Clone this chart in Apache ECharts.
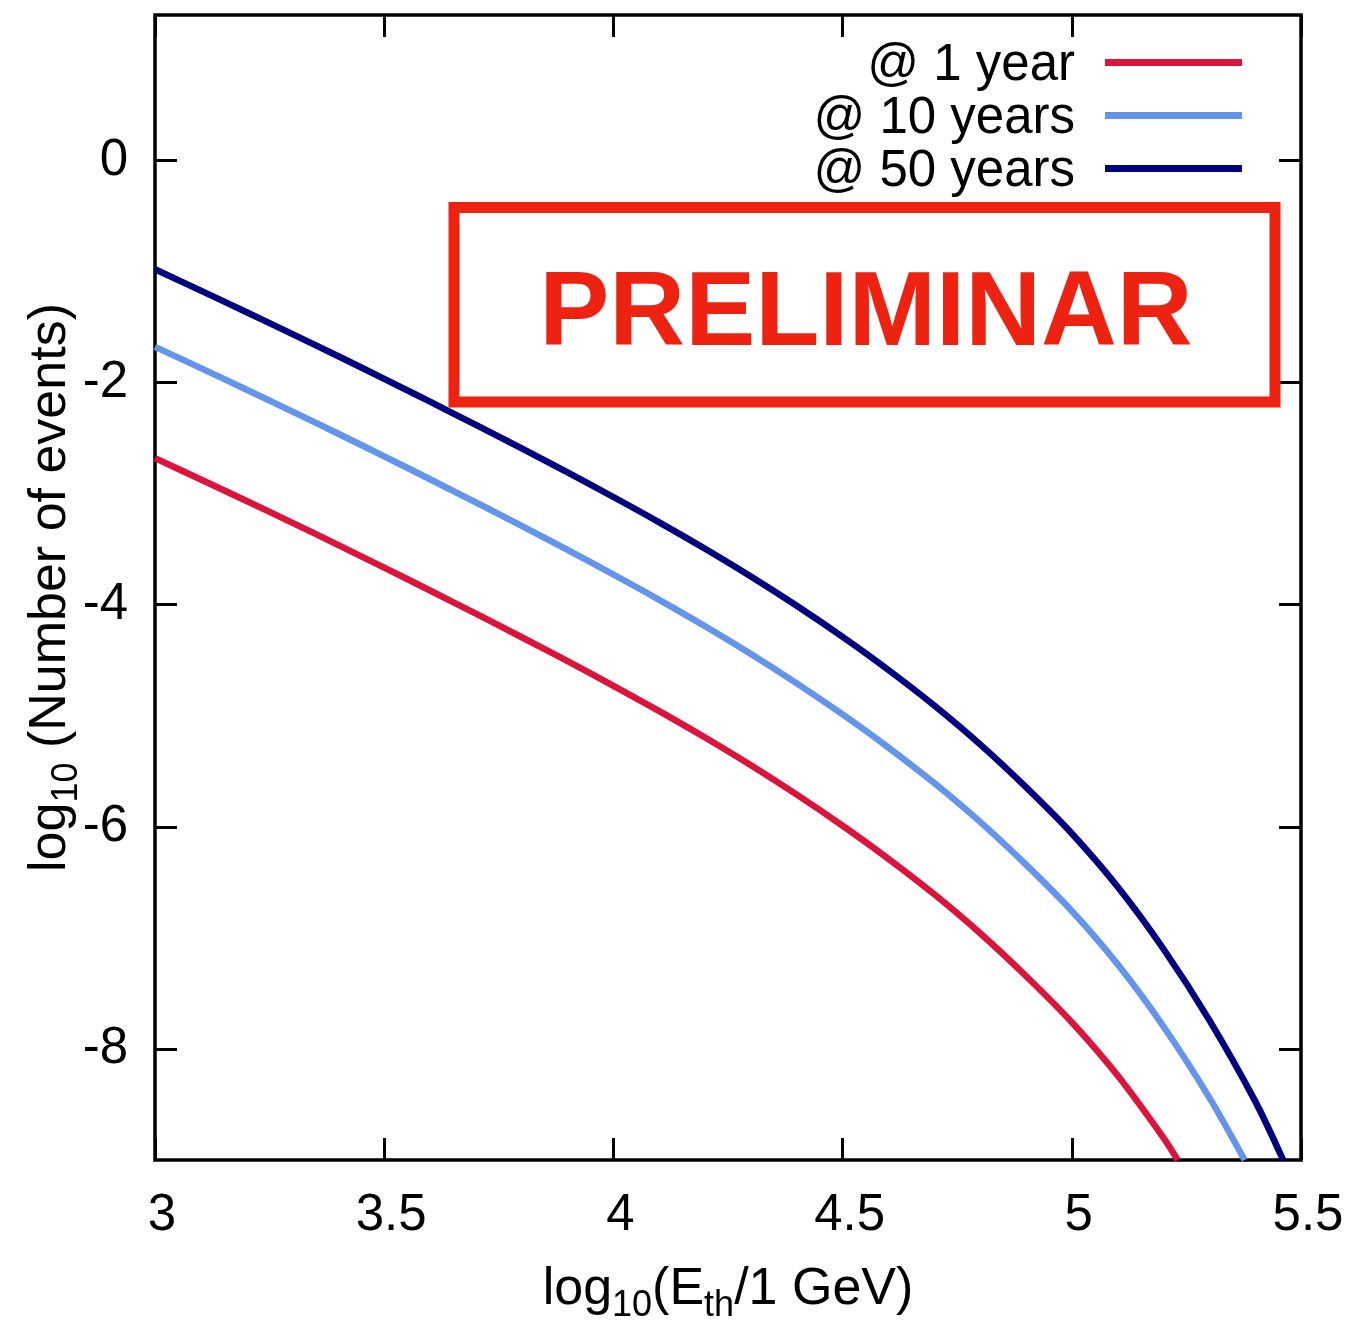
<!DOCTYPE html>
<html>
<head>
<meta charset="utf-8">
<script src="https://cdn.jsdelivr.net/npm/echarts@6/dist/echarts.min.js"></script>
<style>
  html, body { margin: 0; padding: 0; background: #ffffff; }
  #chart { width: 1350px; height: 1324px; }
</style>
</head>
<body>
<div id="chart"></div>
<script>
// log10(E_th / 1 GeV) sample points and log10(number of events) for each exposure
const eth1yr  = [3.0, 3.1, 3.2, 3.3, 3.4, 3.5, 3.6, 3.7, 3.8, 3.9, 4.0, 4.1, 4.2, 4.3, 4.4, 4.5, 4.6, 4.7, 4.8, 4.9, 5.0, 5.1, 5.2, 5.231];
const ev1yr   = [-2.68, -2.872, -3.066, -3.263, -3.463, -3.666, -3.872, -4.081, -4.293, -4.509, -4.73, -4.958, -5.196, -5.446, -5.71, -5.99, -6.288, -6.608, -6.958, -7.343, -7.76, -8.24, -8.80, -9.0];

const eth10yr = [3.0, 3.1, 3.2, 3.3, 3.4, 3.5, 3.6, 3.7, 3.8, 3.9, 4.0, 4.1, 4.2, 4.3, 4.4, 4.5, 4.6, 4.7, 4.8, 4.9, 5.0, 5.1, 5.2, 5.3, 5.377];
const ev10yr  = [-1.678, -1.87, -2.064, -2.261, -2.461, -2.664, -2.87, -3.079, -3.291, -3.507, -3.728, -3.956, -4.194, -4.444, -4.708, -4.988, -5.286, -5.606, -5.956, -6.341, -6.758, -7.238, -7.798, -8.438, -9.0];

const eth50yr = [3.0, 3.1, 3.2, 3.3, 3.4, 3.5, 3.6, 3.7, 3.8, 3.9, 4.0, 4.1, 4.2, 4.3, 4.4, 4.5, 4.6, 4.7, 4.8, 4.9, 5.0, 5.1, 5.2, 5.3, 5.4, 5.461];
const ev50yr  = [-0.98, -1.172, -1.366, -1.563, -1.763, -1.966, -2.172, -2.381, -2.593, -2.809, -3.03, -3.258, -3.496, -3.746, -4.01, -4.29, -4.588, -4.908, -5.258, -5.643, -6.06, -6.54, -7.10, -7.74, -8.47, -9.0];

const seriesNames = ['@ 1 year', '@ 10 years', '@ 50 years'];
const seriesColors = ['#dc143c', '#6495ed', '#000080'];

const xTicks = [3, 3.5, 4, 4.5, 5, 5.5];
const yTicks = [-8, -6, -4, -2, 0];

const FONT = '"Liberation Sans", Arial, Helvetica, sans-serif';

const pairs = (xs, ys) => xs.map((x, i) => [x, ys[i]]);

const tickStyle = { color: '#000', width: 3 };

const nameRich = {
  t: { fontSize: 52, fontFamily: FONT, color: '#000', lineHeight: 52, verticalAlign: 'top' },
  s: { fontSize: 36, fontFamily: FONT, color: '#000', lineHeight: 36, verticalAlign: 'top', padding: [24, 0, 0, 0] }
};

const chart = echarts.init(document.getElementById('chart'), null, { renderer: 'canvas' });

const lineSeries = (name, color, xs, ys, z) => ({
  name: name,
  type: 'line',
  data: pairs(xs, ys),
  showSymbol: false,
  smooth: 0.3,
  clip: true,
  z: z,
  lineStyle: { width: 6.5, color: color, join: 'round' },
  itemStyle: { color: color }
});

chart.setOption({
  animation: false,
  backgroundColor: '#ffffff',
  grid: {
    left: 155, top: 15, width: 1146, height: 1145,
    show: true, borderColor: '#000', borderWidth: 3.5,
    backgroundColor: 'transparent',
    outerBoundsMode: 'none'
  },
  legend: {
    orient: 'vertical',
    right: 108,
    top: 34,
    align: 'right',
    padding: 0,
    itemGap: -4,
    itemWidth: 137,
    itemHeight: 7,
    icon: 'rect',
    selectedMode: false,
    formatter: '{t|{name}}',
    textStyle: {
      rich: {
        t: { fontSize: 51, fontFamily: FONT, color: '#000', lineHeight: 46, padding: [6, 25, 0, 0] }
      }
    },
    data: seriesNames
  },
  xAxis: [
    {
      type: 'value', min: 3, max: 5.5, interval: 0.5, position: 'bottom',
      axisLine: { show: false, onZero: false },
      splitLine: { show: false },
      axisTick: { show: true, inside: true, length: 22, lineStyle: tickStyle },
      axisLabel: { margin: 30, color: '#000', fontSize: 51, fontFamily: FONT, padding: [0, 0, 0, 14] },
      name: '{t|log}{s|10}{t|(E}{s|th}{t|/1 GeV)}',
      nameLocation: 'middle',
      nameGap: 104,
      nameMoveOverlap: false,
      nameTextStyle: { rich: nameRich }
    },
    {
      type: 'value', min: 3, max: 5.5, interval: 0.5, position: 'top',
      axisLine: { show: false, onZero: false },
      splitLine: { show: false },
      axisTick: { show: true, inside: true, length: 22, lineStyle: tickStyle, customValues: xTicks },
      axisLabel: { show: false }
    }
  ],
  yAxis: [
    {
      type: 'value', min: -9, max: 1.31, position: 'left',
      axisLine: { show: false, onZero: false },
      splitLine: { show: false },
      axisTick: { show: true, inside: true, length: 22, lineStyle: tickStyle, customValues: yTicks },
      axisLabel: { margin: 27, color: '#000', fontSize: 51, fontFamily: FONT, customValues: yTicks },
      name: '{t|log}{s|10}{t| (Number of events)}',
      nameLocation: 'middle',
      nameRotate: 90,
      nameGap: 78,
      nameMoveOverlap: false,
      nameTextStyle: { rich: nameRich }
    },
    {
      type: 'value', min: -9, max: 1.31, position: 'right',
      axisLine: { show: false, onZero: false },
      splitLine: { show: false },
      axisTick: { show: true, inside: true, length: 22, lineStyle: tickStyle, customValues: yTicks },
      axisLabel: { show: false }
    }
  ],
  series: [
    lineSeries(seriesNames[0], seriesColors[0], eth1yr, ev1yr, 2),
    lineSeries(seriesNames[1], seriesColors[1], eth10yr, ev10yr, 3),
    lineSeries(seriesNames[2], seriesColors[2], eth50yr, ev50yr, 4)
  ],
  graphic: [
    {
      type: 'rect',
      z: 100,
      shape: { x: 454, y: 207.5, width: 821, height: 194.5 },
      style: { fill: 'none', stroke: '#ee2211', lineWidth: 11 }
    },
    {
      type: 'text',
      z: 101,
      x: 866,
      y: 316,
      style: {
        text: 'PRELIMINAR',
        fill: '#ee2211',
        font: 'bold 105px ' + FONT,
        align: 'center',
        verticalAlign: 'middle'
      }
    }
  ]
});
</script>
</body>
</html>
